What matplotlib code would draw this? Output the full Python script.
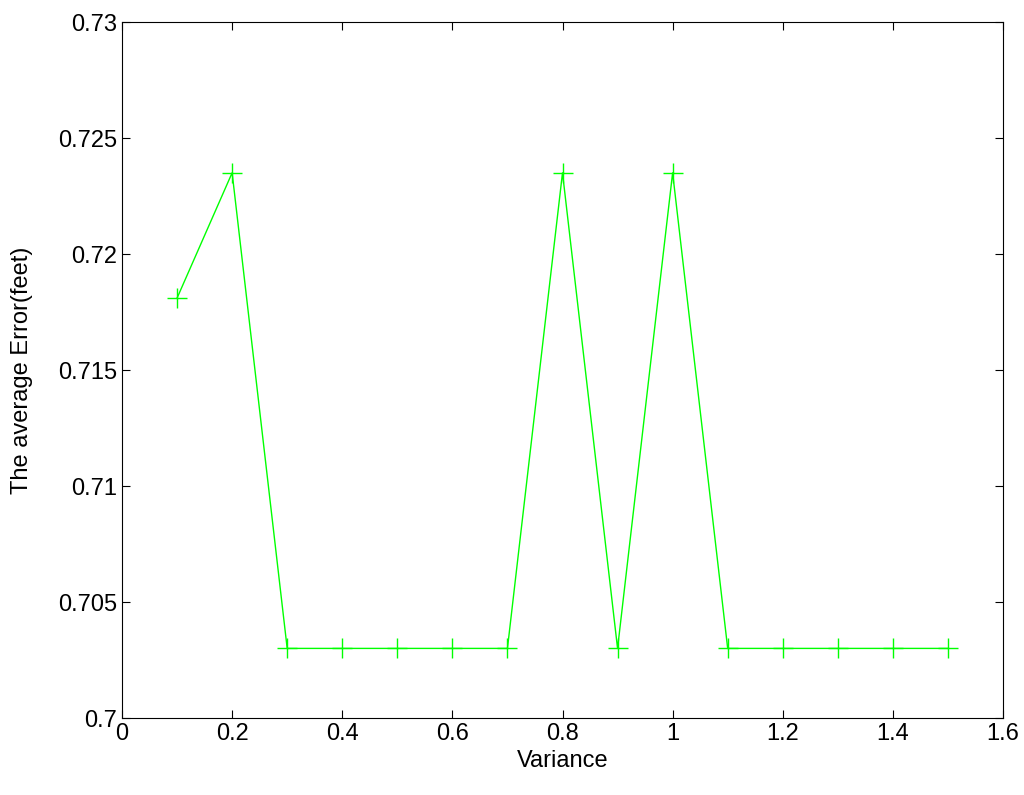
import matplotlib.pyplot as plt

variance = [0.1, 0.2, 0.3, 0.4, 0.5, 0.6, 0.7, 0.8, 0.9, 1.0, 1.1, 1.2, 1.3, 1.4, 1.5]
avg_error = [0.7181, 0.7235, 0.7030, 0.7030, 0.7030, 0.7030, 0.7030, 0.7235,
             0.7030, 0.7235, 0.7030, 0.7030, 0.7030, 0.7030, 0.7030]

plt.rcParams["font.family"] = ["Liberation Sans", "DejaVu Sans"]
fig = plt.figure(figsize=(10.24, 7.95), dpi=100)
ax = fig.add_axes([122 / 1024, 1 - 718 / 795, (1003 - 122) / 1024, (718 - 22) / 795])

ax.plot(variance, avg_error, color="#00ff00", marker="+", markersize=14,
        linewidth=1, markeredgewidth=1)

ax.set_xlim(0, 1.6)
ax.set_ylim(0.7, 0.73)
ax.set_xticks([0, 0.2, 0.4, 0.6, 0.8, 1, 1.2, 1.4, 1.6])
ax.set_xticklabels(["0", "0.2", "0.4", "0.6", "0.8", "1", "1.2", "1.4", "1.6"])
ax.set_yticks([0.7, 0.705, 0.71, 0.715, 0.72, 0.725, 0.73])
ax.set_yticklabels(["0.7", "0.705", "0.71", "0.715", "0.72", "0.725", "0.73"])
ax.tick_params(direction="in", top=True, right=True, labelsize=17, length=6)
ax.set_xlabel("Variance", fontsize=17)
ax.set_ylabel("The average Error(feet)", fontsize=17, labelpad=18)

fig.savefig("out.png", dpi=100)
